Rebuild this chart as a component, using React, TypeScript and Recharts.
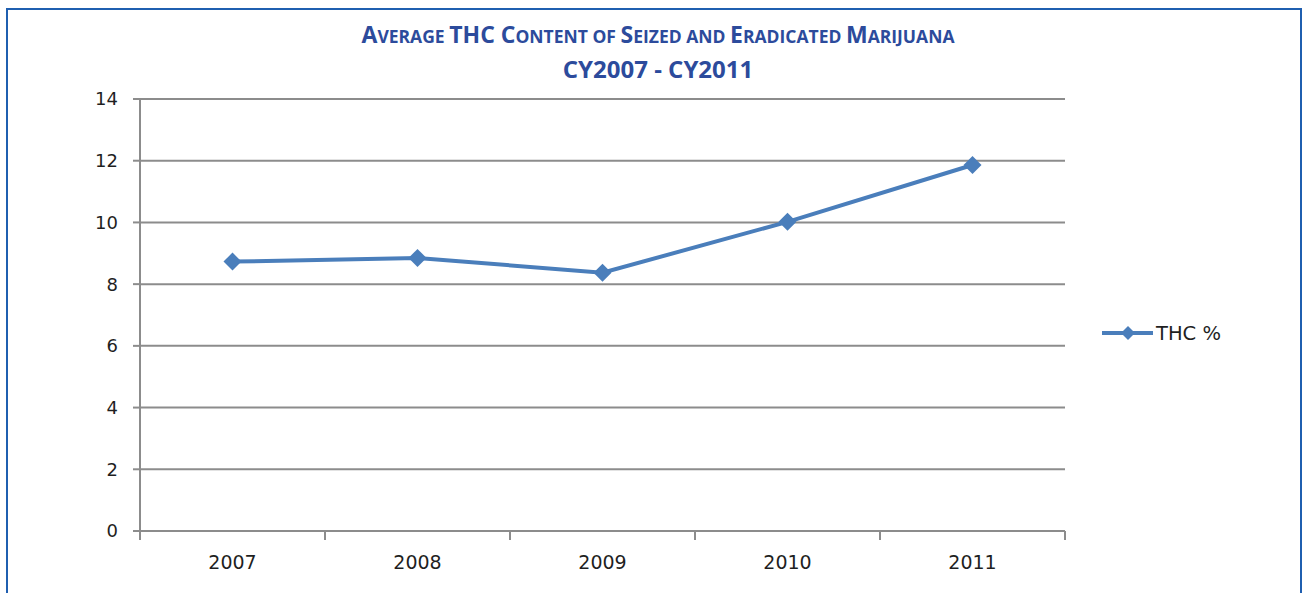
import React from 'react';
import { LineChart, Line, XAxis, YAxis, CartesianGrid } from 'recharts';

const years = ['2007', '2008', '2009', '2010', '2011'];
const thcValues = [8.73, 8.85, 8.37, 10.02, 11.86];
const yTicks = [0, 2, 4, 6, 8, 10, 12, 14];
const boundaryTicks = [0, 1, 2, 3, 4, 5];

// pos places each year in the middle of its slot between boundary ticks
const data = years.map((year, i) => ({ year, pos: i + 0.5, thc: thcValues[i] }));

const LINE_COLOR = '#4a7ebb';
const GRID_COLOR = '#8c8c8c';
const TITLE_COLOR = '#2c4b9c';
const AXIS_FONT = '"DejaVu Sans", sans-serif';

function Diamond(props: any) {
  const { cx, cy } = props;
  if (cx == null || cy == null) return null;
  const s = 9;
  return (
    <polygon
      points={`${cx},${cy - s} ${cx + s},${cy} ${cx},${cy + s} ${cx - s},${cy}`}
      fill={LINE_COLOR}
    />
  );
}

function LegendBox() {
  return (
    <svg width={140} height={26} style={{ position: 'absolute', left: 1100, top: 320 }}>
      <line x1={2} y1={13} x2={53} y2={13} stroke={LINE_COLOR} strokeWidth={4} />
      <polygon points="28,6 35,13 28,20 21,13" fill={LINE_COLOR} />
      <text x={56} y={20} fontSize={19.5} fontFamily={AXIS_FONT} fill="#1f1f1f">
        THC %
      </text>
    </svg>
  );
}

const big = { fontSize: 23 };
const small = { fontSize: 17.5 };

export default function App() {
  return (
    <div
      style={{
        position: 'absolute',
        left: 0,
        top: 0,
        width: 1304,
        height: 593,
        background: '#fff',
        overflow: 'hidden',
      }}
    >
      <div
        style={{
          position: 'absolute',
          left: 6,
          top: 8,
          width: 1292,
          height: 640,
          border: '2px solid #1f5fb0',
        }}
      />
      <div
        style={{
          position: 'absolute',
          left: 0,
          top: 19,
          width: 1316,
          textAlign: 'center',
          color: TITLE_COLOR,
          fontFamily: '"Open Sans", sans-serif',
          fontWeight: 700,
          lineHeight: '31px',
        }}
      >
        <div>
          <span style={big}>A</span>
          <span style={small}>VERAGE </span>
          <span style={big}>THC C</span>
          <span style={small}>ONTENT OF </span>
          <span style={big}>S</span>
          <span style={small}>EIZED AND </span>
          <span style={big}>E</span>
          <span style={small}>RADICATED </span>
          <span style={big}>M</span>
          <span style={small}>ARIJUANA</span>
        </div>
        <div style={{ fontSize: 24 }}>CY2007 - CY2011</div>
      </div>
      <div style={{ position: 'absolute', left: 0, top: 0 }}>
        <LineChart
          width={1304}
          height={593}
          data={data}
          margin={{ top: 99, right: 239, left: 80, bottom: 21 }}
        >
          <CartesianGrid vertical={false} stroke={GRID_COLOR} strokeWidth={2} />
          <XAxis
            dataKey="pos"
            type="number"
            domain={[0, 5]}
            ticks={boundaryTicks}
            tick={() => <g />}
            tickSize={9}
            height={1}
            axisLine={{ stroke: GRID_COLOR, strokeWidth: 2 }}
            tickLine={{ stroke: GRID_COLOR, strokeWidth: 2 }}
          />
          <XAxis
            xAxisId="labels"
            dataKey="year"
            padding={{ left: 92.5, right: 92.5 }}
            height={40}
            tickLine={false}
            axisLine={false}
            tickSize={9}
            tickMargin={15}
            tick={{ fontSize: 19, fill: '#1f1f1f', fontFamily: AXIS_FONT }}
          />
          <YAxis
            domain={[0, 14]}
            ticks={yTicks}
            width={60}
            tickSize={7}
            tickMargin={15}
            axisLine={{ stroke: GRID_COLOR, strokeWidth: 2 }}
            tickLine={{ stroke: GRID_COLOR, strokeWidth: 2 }}
            tick={{ fontSize: 18, fill: '#1f1f1f', fontFamily: AXIS_FONT }}
          />
          <Line
            type="linear"
            dataKey="thc"
            name="THC %"
            stroke={LINE_COLOR}
            strokeWidth={4}
            dot={<Diamond />}
            activeDot={false}
            isAnimationActive={false}
          />
        </LineChart>
      </div>
      <LegendBox />
    </div>
  );
}
